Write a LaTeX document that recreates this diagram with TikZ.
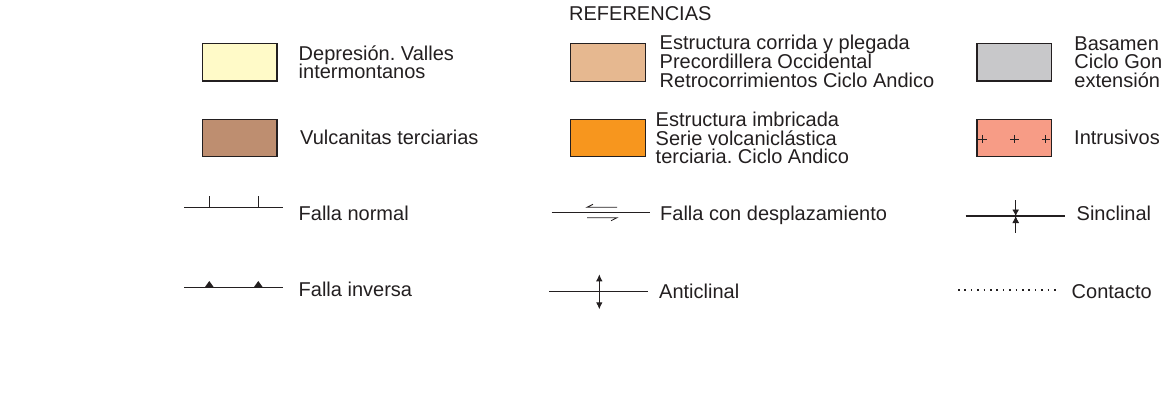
\documentclass[tikz,border=0pt]{standalone}
\usepackage{fontspec}
\setmainfont{Liberation Sans}
\usetikzlibrary{arrows.meta}
\frenchspacing

\definecolor{inkgray}{RGB}{35,31,32}
\definecolor{depresion}{RGB}{255,250,200}
\definecolor{vulcanitas}{RGB}{190,142,112}
\definecolor{corrida}{RGB}{230,184,144}
\definecolor{imbricada}{RGB}{247,150,30}
\definecolor{basamento}{RGB}{200,200,202}
\definecolor{intrusivos}{RGB}{247,156,134}

\newcommand{\legfont}{\fontsize{20}{18.7}\selectfont\lineskiplimit=-10pt\relax}

\begin{document}
\begin{tikzpicture}[x=1pt, y=-1pt]
        \tikzstyle{every node}=[inner sep=0pt, text=inkgray, font=\legfont]
        \tikzstyle{unit}=[rectangle, draw=inkgray, line width=1.3pt, minimum width=74.5pt, minimum height=37.5pt]
        \tikzstyle{lbl}=[anchor=base west, align=left]
        \tikzstyle{sym}=[inkgray, line width=1.3pt]
        \tikzstyle{thinsym}=[inkgray, line width=0.9pt]

        \useasboundingbox (0,0) rectangle (1161,406);
        \clip (0,0) rectangle (1161,406);

        \node[lbl] (ref) at (569,20.7) {REFERENCIAS};

        % unidades
        \node[unit, fill=depresion]  (dep) at (239.8,62.2) {};
        \node[unit, fill=vulcanitas] (vul) at (239.8,138)  {};
        \node[unit, fill=corrida]    (cor) at (608,62.5)   {};
        \node[unit, fill=imbricada]  (imb) at (608,138)    {};
        \node[unit, fill=basamento]  (bas) at (1014.3,62.2) {};
        \node[unit, fill=intrusivos] (int) at (1014.3,138)  {};
        \foreach \x in {982.3,1014.3,1045.7}
            \draw[inkgray, line width=0.9pt] (\x-4.2,139) -- (\x+4.2,139) (\x,134.8) -- (\x,143.2);

        % the base of a text of several lines is its last line
        \node[lbl] (dep-t) at (298.5,79)    {Depresión. Valles\\intermontanos};
        \node[lbl] (vul-t) at (300,144.3)   {Vulcanitas terciarias};
        \node[lbl] (cor-t) at (659.5,87.2)  {Estructura corrida y plegada\\Precordillera Occidental\\Retrocorrimientos Ciclo Andico};
        \node[lbl] (imb-t) at (655.5,164)   {Estructura imbricada\\Serie volcaniclástica\\terciaria. Ciclo Andico};
        \node[lbl] (bas-t) at (1074.2,87.5) {Basamen\\Ciclo Gon\\extensión};
        \node[lbl] (int-t) at (1074,145)    {Intrusivos};

        % falla normal
        \coordinate (fn1) at (184,207.3);
        \coordinate (fn2) at (283,207.3);
        \draw[sym] (fn1) -- (fn2);
        \foreach \x in {209.3,258.3} \draw[sym] (\x,207.3) -- (\x,196);
        \node[lbl] (fn-t) at (298.5,220.7) {Falla normal};

        % falla inversa
        \coordinate (fi1) at (184,287.3);
        \coordinate (fi2) at (283,287.3);
        \draw[sym] (fi1) -- (fi2);
        \foreach \x in {209.3,258.3} \fill[inkgray] (\x-4.5,287.3) -- (\x+4.5,287.3) -- (\x,281) -- cycle;
        \node[lbl] (fi-t) at (298.5,296.7) {Falla inversa};

        % falla con desplazamiento
        \coordinate (fd1) at (551.7,212.7);
        \coordinate (fd2) at (650,212.7);
        \draw[sym] (fd1) -- (fd2);
        \draw[inkgray, line width=0.8pt] (617,207.3) -- (587,207.3) -- ++(6,-3);
        \draw[inkgray, line width=0.8pt] (587,217.7) -- (617,217.7) -- ++(-6,3);
        \node[lbl] (fd-t) at (660,220.7) {Falla con desplazamiento};

        % anticlinal
        \coordinate (an1) at (549,291.7);
        \coordinate (an2) at (648,291.7);
        \draw[sym] (an1) -- (an2);
        \draw[thinsym, {Latex[length=7pt,width=6.5pt]}-{Latex[length=7pt,width=6.5pt]}] (599.3,274.3) -- (599.3,309.3);
        \node[lbl] (an-t) at (659,298.3) {Anticlinal};

        % sinclinal
        \coordinate (si1) at (965.7,216);
        \coordinate (si2) at (1065,216);
        \draw[sym] (si1) -- (si2);
        \draw[thinsym] (1015.7,200) -- (1015.7,233.3);
        \draw[thinsym, -{Latex[length=6.5pt,width=7pt]}] (1015.7,205) -- (1015.7,216);
        \draw[thinsym, -{Latex[length=7pt,width=7pt]}] (1015.7,228) -- (1015.7,216);
        \node[lbl] (si-t) at (1076.5,220.7) {Sinclinal};

        % contacto
        \coordinate (co1) at (958,290);
        \coordinate (co2) at (1058,290);
        \draw[inkgray, line width=1.6pt, dash pattern=on 1.6pt off 4.8pt] (co1) -- (co2);
        \node[lbl] (co-t) at (1071.5,298) {Contacto};
\end{tikzpicture}
\end{document}
